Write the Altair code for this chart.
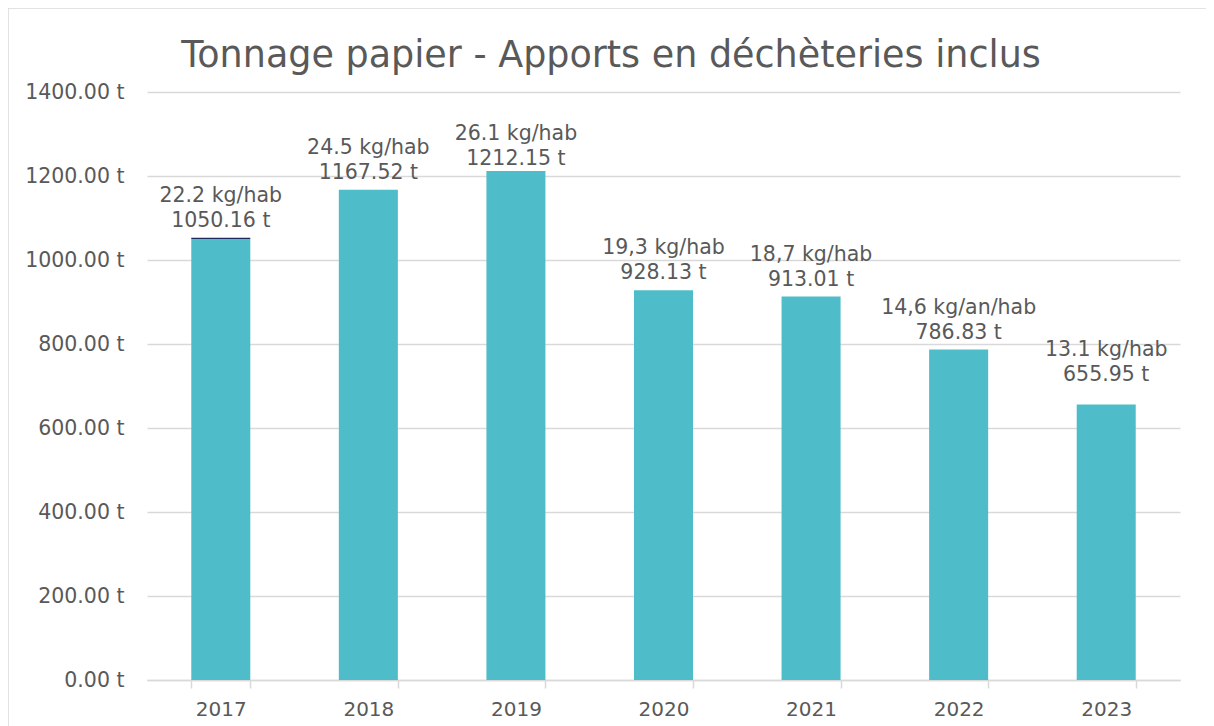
import altair as alt
import pandas as pd

years = ["2017", "2018", "2019", "2020", "2021", "2022", "2023"]
tonnage = [1050.16, 1167.52, 1212.15, 928.13, 913.01, 786.83, 655.95]
ratio_labels = ["22.2 kg/hab", "24.5 kg/hab", "26.1 kg/hab", "19,3 kg/hab",
                "18,7 kg/hab", "14,6 kg/an/hab", "13.1 kg/hab"]
top_segment = [3.0, 0, 0, 0, 0, 0, 0]
y_ticks = [0, 200, 400, 600, 800, 1000, 1200, 1400]
title_text = "Tonnage papier - Apports en déchèteries inclus"

FONT = "DejaVu Sans"
TXT = "#595959"
GRID = "#D9D9D9"
BAR = "#4FBDC9"

df = pd.DataFrame({
    "year": years,
    "t": tonnage,
    "top": [a + b for a, b in zip(tonnage, top_segment)],
    "seg": top_segment,
    "ratio": ratio_labels,
    "tlabel": [f"{v:.2f} t" for v in tonnage],
})

W, H = 1033, 588
PL, PT = 139, 84
TOTAL_W, TOTAL_H = 1198, 718

x = alt.X("year:N", title=None, sort=years,
          scale=alt.Scale(paddingInner=0.6, paddingOuter=0.3),
          axis=alt.Axis(labelAngle=0, labelFontSize=20, labelColor=TXT, labelFont=FONT,
                        domainColor=GRID, domainWidth=1.5, tickColor=GRID, tickWidth=1.5,
                        tickSize=8, tickBand="extent", labelPadding=11, grid=False))
y = alt.Y("t:Q", title=None, scale=alt.Scale(domain=[0, 1400], nice=False),
          axis=alt.Axis(values=y_ticks, labelExpr="format(datum.value, '.2f') + ' t'",
                        labelFontSize=20.5, labelColor=TXT, labelFont=FONT,
                        domain=False, ticks=False, labelPadding=23,
                        gridColor=GRID, gridWidth=1.5))

base = alt.Chart(df)

bars = base.mark_bar(color=BAR).encode(x=x, y=y)
tops = base.transform_filter("datum.seg > 0").mark_bar(color="#1F2A5C").encode(
    x=x, y=alt.Y("t:Q"), y2="top:Q")

# label groups with their own vertical nudge (as placed in the original)
groups = [("datum.year != '2019' && datum.year != '2023'", 0),
          ("datum.year == '2019'", 5),
          ("datum.year == '2023'", -13)]
label_layers = []
for test, off in groups:
    sub = base.transform_filter(test)
    label_layers.append(sub.mark_text(baseline="alphabetic", dy=-36 + off, fontSize=20.5,
                                      font=FONT, color=TXT).encode(
        x=x, y=alt.Y("top:Q"), text="ratio:N"))
    label_layers.append(sub.mark_text(baseline="alphabetic", dy=-11 + off, fontSize=20.5,
                                      font=FONT, color=TXT).encode(
        x=x, y=alt.Y("top:Q"), text="tlabel:N"))

one = base.transform_filter("datum.year == '2017'")
border = one.mark_rect(fill=None, stroke=GRID, strokeWidth=1.5, clip=False).encode(
    x=alt.value(-PL), x2=alt.value(TOTAL_W - PL + 30),
    y=alt.value(-PT), y2=alt.value(TOTAL_H - PT + 40))
title = one.mark_text(baseline="alphabetic", align="center", fontSize=36.5, font=FONT,
                      color=TXT, clip=False).encode(
    x=alt.value(464), y=alt.value(-25), text=alt.value(title_text))

chart = alt.layer(border, title, bars, tops, *label_layers).properties(
    width=W, height=H,
    autosize=alt.AutoSizeParams(type="none"),
    padding={"left": PL, "top": PT, "right": TOTAL_W - PL - W, "bottom": TOTAL_H - PT - H},
).configure_view(stroke=None)

chart.save("out.html", embed_options={"renderer": "svg", "actions": False})
